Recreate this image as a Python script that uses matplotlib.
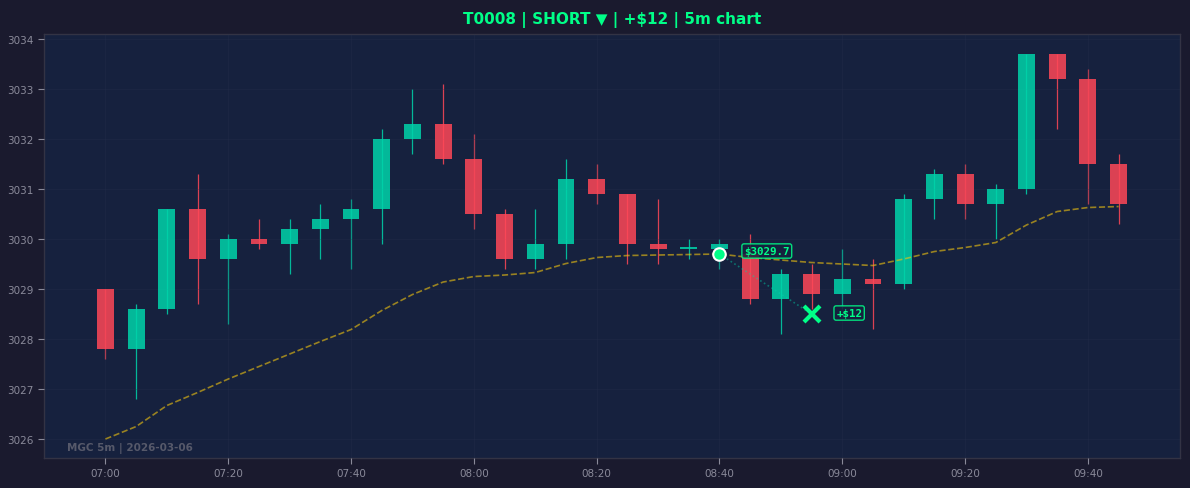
import numpy as np
import matplotlib
matplotlib.use("Agg")
import matplotlib.pyplot as plt

# 5m bars, 07:00 -> 09:45
times = ["07:00", "07:05", "07:10", "07:15", "07:20", "07:25", "07:30", "07:35",
         "07:40", "07:45", "07:50", "07:55", "08:00", "08:05", "08:10", "08:15",
         "08:20", "08:25", "08:30", "08:35", "08:40", "08:45", "08:50", "08:55",
         "09:00", "09:05", "09:10", "09:15", "09:20", "09:25", "09:30", "09:35",
         "09:40", "09:45"]
opens = [3029.0, 3027.8, 3028.6, 3030.6, 3029.6, 3030.0, 3029.9, 3030.2,
         3030.4, 3030.6, 3032.0, 3032.3, 3031.6, 3030.5, 3029.6, 3029.9,
         3031.2, 3030.9, 3029.9, 3029.8, 3029.8, 3029.7, 3028.8, 3029.3,
         3028.9, 3029.2, 3029.1, 3030.8, 3031.3, 3030.7, 3031.0, 3033.7,
         3033.2, 3031.5]
highs = [3029.0, 3028.7, 3030.6, 3031.3, 3030.1, 3030.4, 3030.4, 3030.7,
         3030.8, 3032.2, 3033.0, 3033.1, 3032.1, 3030.6, 3030.6, 3031.6,
         3031.5, 3030.9, 3030.8, 3030.0, 3030.0, 3030.1, 3029.4, 3029.5,
         3029.8, 3029.6, 3030.9, 3031.4, 3031.5, 3031.1, 3033.7, 3033.7,
         3033.4, 3031.7]
lows = [3027.6, 3026.8, 3028.5, 3028.7, 3028.3, 3029.8, 3029.3, 3029.6,
        3029.4, 3029.9, 3031.7, 3031.5, 3030.2, 3029.4, 3029.4, 3029.6,
        3030.7, 3029.5, 3029.5, 3029.6, 3029.4, 3028.7, 3028.1, 3028.6,
        3028.6, 3028.2, 3029.0, 3030.4, 3030.4, 3030.0, 3030.9, 3032.2,
        3030.7, 3030.3]
closes = [3027.8, 3028.6, 3030.6, 3029.6, 3030.0, 3029.9, 3030.2, 3030.4,
          3030.6, 3032.0, 3032.3, 3031.6, 3030.5, 3029.6, 3029.9, 3031.2,
          3030.9, 3029.9, 3029.8, 3029.85, 3029.9, 3028.8, 3029.3, 3028.9,
          3029.2, 3029.1, 3030.8, 3031.3, 3030.7, 3031.0, 3033.7, 3033.2,
          3031.5, 3030.7]
ema = [3026.0, 3026.25, 3026.67, 3026.93, 3027.2, 3027.45, 3027.7, 3027.95,
       3028.19, 3028.57, 3028.89, 3029.14, 3029.25, 3029.28, 3029.33, 3029.51,
       3029.63, 3029.67, 3029.68, 3029.69, 3029.70, 3029.63, 3029.58, 3029.53,
       3029.5, 3029.47, 3029.6, 3029.75, 3029.83, 3029.93, 3030.28, 3030.55,
       3030.63, 3030.65]

entry_time, entry_price = "08:40", 3029.7
exit_time, exit_price = "08:55", 3028.5
pnl = 12

BG = "#1a1a2e"
AX_BG = "#16213e"
UP = "#00d4aa"
DOWN = "#ff4757"
ACCENT = "#00ff88"

fig = plt.figure(figsize=(11.9, 4.89), dpi=100, facecolor=BG)
ax = fig.add_axes([0.037, 0.0613, 0.9546, 0.8671])
ax.set_facecolor(AX_BG)

x = np.arange(len(times))
o = np.array(opens)
c = np.array(closes)
up = c >= o
colors = np.where(up, UP, DOWN)

ax.vlines(x, lows, highs, colors=colors, linewidth=0.9, alpha=0.85, zorder=2)
ax.bar(x, np.abs(c - o), bottom=np.minimum(o, c), width=0.55,
       color=colors, alpha=0.85, zorder=3)

ax.plot(x, ema, color="#f1c40f", linestyle="--", linewidth=1.2, alpha=0.6, zorder=4)

ei = times.index(entry_time)
xi = times.index(exit_time)
ax.plot([ei, xi], [entry_price, exit_price], color=UP, linestyle=":",
        linewidth=1.2, alpha=0.45, zorder=5)
ax.plot(ei, entry_price, "o", color=ACCENT, markersize=9,
        markeredgecolor="white", markeredgewidth=1.5, zorder=7)
ax.plot(xi, exit_price, "x", color=ACCENT, markersize=11,
        markeredgewidth=3, zorder=7)

box = dict(boxstyle="round,pad=0.2", facecolor=AX_BG, edgecolor=ACCENT,
           alpha=0.85, linewidth=1)
ax.text(ei + 0.8, entry_price + 0.06, f"${entry_price}", color=ACCENT,
        fontsize=7.8, fontweight="bold", family="DejaVu Sans Mono",
        va="center", ha="left", bbox=box, zorder=8)
ax.text(xi + 0.8, exit_price + 0.02, f"+${pnl}", color=ACCENT,
        fontsize=7.8, fontweight="bold", family="DejaVu Sans Mono",
        va="center", ha="left", bbox=box, zorder=8)

ax.text(0.02, 0.012, "MGC 5m | 2026-03-06", transform=ax.transAxes,
        color="#56596a", fontsize=7.5, fontweight="bold", va="bottom", ha="left")

ax.set_xlim(-2, 35)
ax.set_ylim(3025.62, 3034.1)
ax.set_xticks(x[::4])
ax.set_xticklabels(times[::4])
ax.set_yticks(np.arange(3026, 3035, 1))

ax.grid(True, color="#2a3450", linewidth=0.6, alpha=0.3, zorder=6)
ax.set_axisbelow(False)
ax.tick_params(colors="#8a8a9a", labelsize=7.5, length=4, width=0.8)
for s in ax.spines.values():
    s.set_color("#333344")
    s.set_linewidth(1)

ax.set_title(f"T0008 | SHORT \u25bc | +${pnl} | 5m chart", color=ACCENT,
             fontsize=11, fontweight="bold", pad=8)

fig.savefig("out.png", dpi=100, facecolor=BG)
